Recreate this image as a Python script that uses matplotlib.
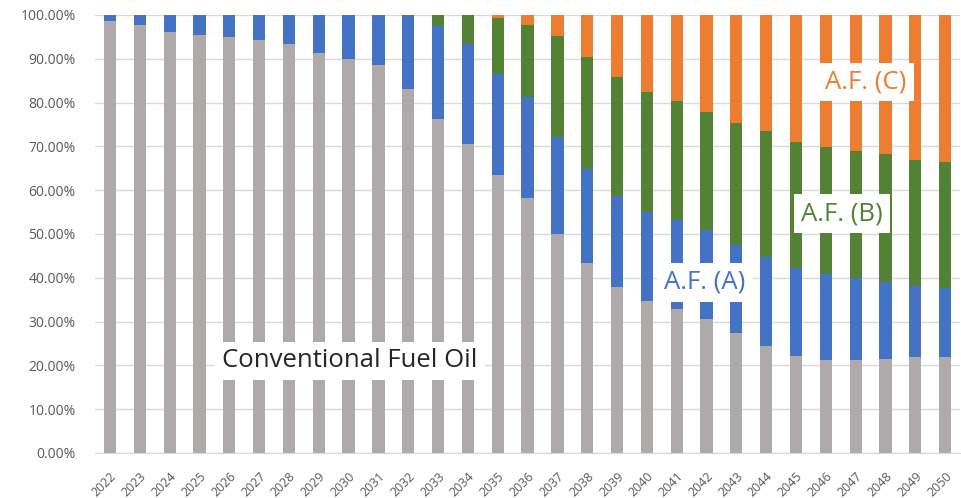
import numpy as np
import matplotlib
matplotlib.use("Agg")
import matplotlib.pyplot as plt
from matplotlib.ticker import FuncFormatter

plt.rcParams['font.family'] = ['Open Sans', 'DejaVu Sans']

years = [str(y) for y in range(2022, 2051)]

# cumulative tops (percent)
conv_top = [98.7, 97.7, 96.2, 95.4, 94.9, 94.3, 93.4, 91.4, 90.0, 88.5,
            83.1, 76.3, 70.5, 63.5, 58.1, 49.9, 43.3, 37.8, 34.6, 32.9,
            30.5, 27.5, 24.5, 22.2, 21.2, 21.2, 21.4, 21.8, 21.8]
a_top = [100, 100, 100, 100, 100, 100, 100, 100, 100, 100,
         99.7, 97.5, 93.4, 86.5, 81.2, 72.1, 64.8, 58.7, 55.1, 53.2,
         50.8, 47.4, 44.7, 42.2, 40.9, 39.9, 39.0, 38.2, 37.7]
b_top = [100, 100, 100, 100, 100, 100, 100, 100, 100, 100,
         100, 100, 100, 99.2, 97.7, 95.2, 90.3, 85.8, 82.3, 80.4,
         77.9, 75.3, 73.5, 70.9, 69.9, 69.0, 68.3, 66.9, 66.4]

conv = np.array(conv_top)
af_a = np.array(a_top) - conv
af_b = np.array(b_top) - np.array(a_top)
af_c = 100 - np.array(b_top)

gray = '#AEAAAA'
blue = '#4472C4'
green = '#548235'
orange = '#ED7D31'
label_col = '#595959'

fig = plt.figure(figsize=(9.62, 4.98), dpi=100)
ax = fig.add_axes([0.0988, 0.0904, 0.8992, 0.8796])

x = np.arange(len(years))
w = 0.41
ax.bar(x, conv, w, color=gray, zorder=2)
ax.bar(x, af_a, w, bottom=conv, color=blue, zorder=2)
ax.bar(x, af_b, w, bottom=conv + af_a, color=green, zorder=2)
ax.bar(x, af_c, w, bottom=conv + af_a + af_b, color=orange, zorder=2)

ax.set_xlim(-0.5, len(years) - 0.5)
ax.set_ylim(0, 100)
ax.set_yticks(np.arange(0, 101, 10))
ax.yaxis.set_major_formatter(FuncFormatter(lambda v, p: f"{v:.2f}%"))
ax.set_xticks(x)
ax.set_xticklabels(years, rotation=45, ha='right', rotation_mode='anchor')
ax.tick_params(axis='both', length=0, colors=label_col, labelsize=10)
ax.tick_params(axis='y', pad=14)
ax.tick_params(axis='x', pad=12, labelsize=9)
ax.grid(axis='y', color='#D9D9D9', linewidth=1, zorder=0)
for s in ['top', 'right', 'left']:
    ax.spines[s].set_visible(False)
ax.spines['bottom'].set_color('#D9D9D9')

box = dict(facecolor='white', edgecolor='none', pad=5)
ax.text(8.05, 21.0, 'Conventional Fuel Oil', fontsize=18.5, color='#262626',
        ha='center', va='center', bbox=box, zorder=3)
ax.text(19.95, 39.0, 'A.F. (A)', fontsize=18.5, color=blue,
        ha='center', va='center', bbox=box, zorder=3)
ax.text(24.55, 54.6, 'A.F. (B)', fontsize=18.5, color=green,
        ha='center', va='center', bbox=box, zorder=3)
ax.text(25.35, 84.7, 'A.F. (C)', fontsize=18.5, color=orange,
        ha='center', va='center', bbox=box, zorder=3)

fig.savefig('out.png', dpi=100)
